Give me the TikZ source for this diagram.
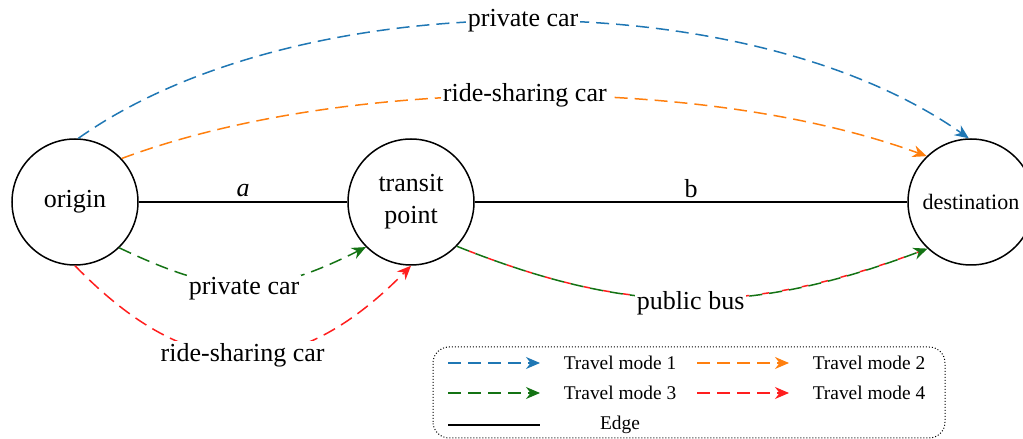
\documentclass[tikz,border=0pt]{standalone}
\usepackage{fontspec}
\setmainfont{Liberation Serif}
\usetikzlibrary{arrows.meta}

\definecolor{modeblue}{RGB}{31,119,180}
\definecolor{modeorange}{RGB}{255,127,14}
\definecolor{modegreen}{RGB}{20,115,20}
\definecolor{modered}{RGB}{255,30,30}

\begin{document}
\begin{tikzpicture}[x=0.5pt,y=0.5pt,
    place/.style={circle, draw, line width=0.75pt, minimum size=63pt, inner sep=0pt,
        align=center, font=\fontsize{13}{16}\selectfont},
    mode/.style={dash pattern=on 6.5pt off 3.5pt, line width=0.75pt,
        -{Stealth[length=7pt,width=6pt]}},
    lbl/.style={fill=white, text=black, inner sep=1pt, font=\fontsize{13}{15}\selectfont},
    key/.style={font=\fontsize{9.7}{11}\selectfont}]
    \useasboundingbox (0,0) rectangle (1023,439);

    % Places
    \node[place] (origin) at (75,237) {origin};
    \node[place] (transit) at (411,237) {transit\\point};
    \node[place, font=\fontsize{11}{13}\selectfont] (dest) at (971,237) {destination};

    % Edges
    \draw[line width=0.6pt] (origin) -- node[above=-1pt, font=\fontsize{13}{15}\selectfont] {\textit{a}} (transit);
    \draw[line width=0.6pt] (transit) -- node[above=-1.5pt, font=\fontsize{13}{15}\selectfont] {b} (dest);

    % Direct trips
    \draw[mode, modeblue] (origin.87) .. controls (299,457) and (747,457) .. (dest.92)
        node[lbl, pos=0.5] {private car};
    \draw[mode, modeorange] (origin.43) .. controls (345,364) and (705,364) .. (dest.134)
        node[lbl, pos=0.5] {ride-sharing car};

    % First leg
    \draw[mode, modegreen] (origin.-46) .. controls (223,142) and (266,142) .. (transit.225)
        node[lbl, pos=0.5, yshift=-2pt] {private car};
    \draw[mode, modered] (origin.south) .. controls (191,54) and (294,54) .. (transit.south)
        node[lbl, pos=0.5] {ride-sharing car};

    % Second leg, shared by modes 3 and 4
    \draw[line width=0.75pt, modered, dash pattern=on 3.5pt off 6.5pt, dash phase=3.5pt]
        (transit.-44) .. controls (631,123) and (749,123) .. (dest.227);
    \draw[mode, modegreen] (transit.-44) .. controls (631,123) and (749,123) .. (dest.227)
        node[lbl, pos=0.5, yshift=-2pt] {public bus};

    % Legend
    \draw[densely dotted, line width=0.5pt, rounded corners=8pt] (433,1) rectangle (945,92);
    \foreach \x/\y/\c/\n in {448/76/modeblue/1, 697/76/modeorange/2, 448/46/modegreen/3, 697/46/modered/4} {
        \draw[mode, \c] (\x,\y) -- ++(92,0);
        \node[key] (key\n) at (\x+172,\y) {Travel mode \n};
    }
    \draw[line width=0.7pt] (448,14) -- ++(92,0);
    \node[key] (key5) at (620,14) {Edge};
\end{tikzpicture}
\end{document}
